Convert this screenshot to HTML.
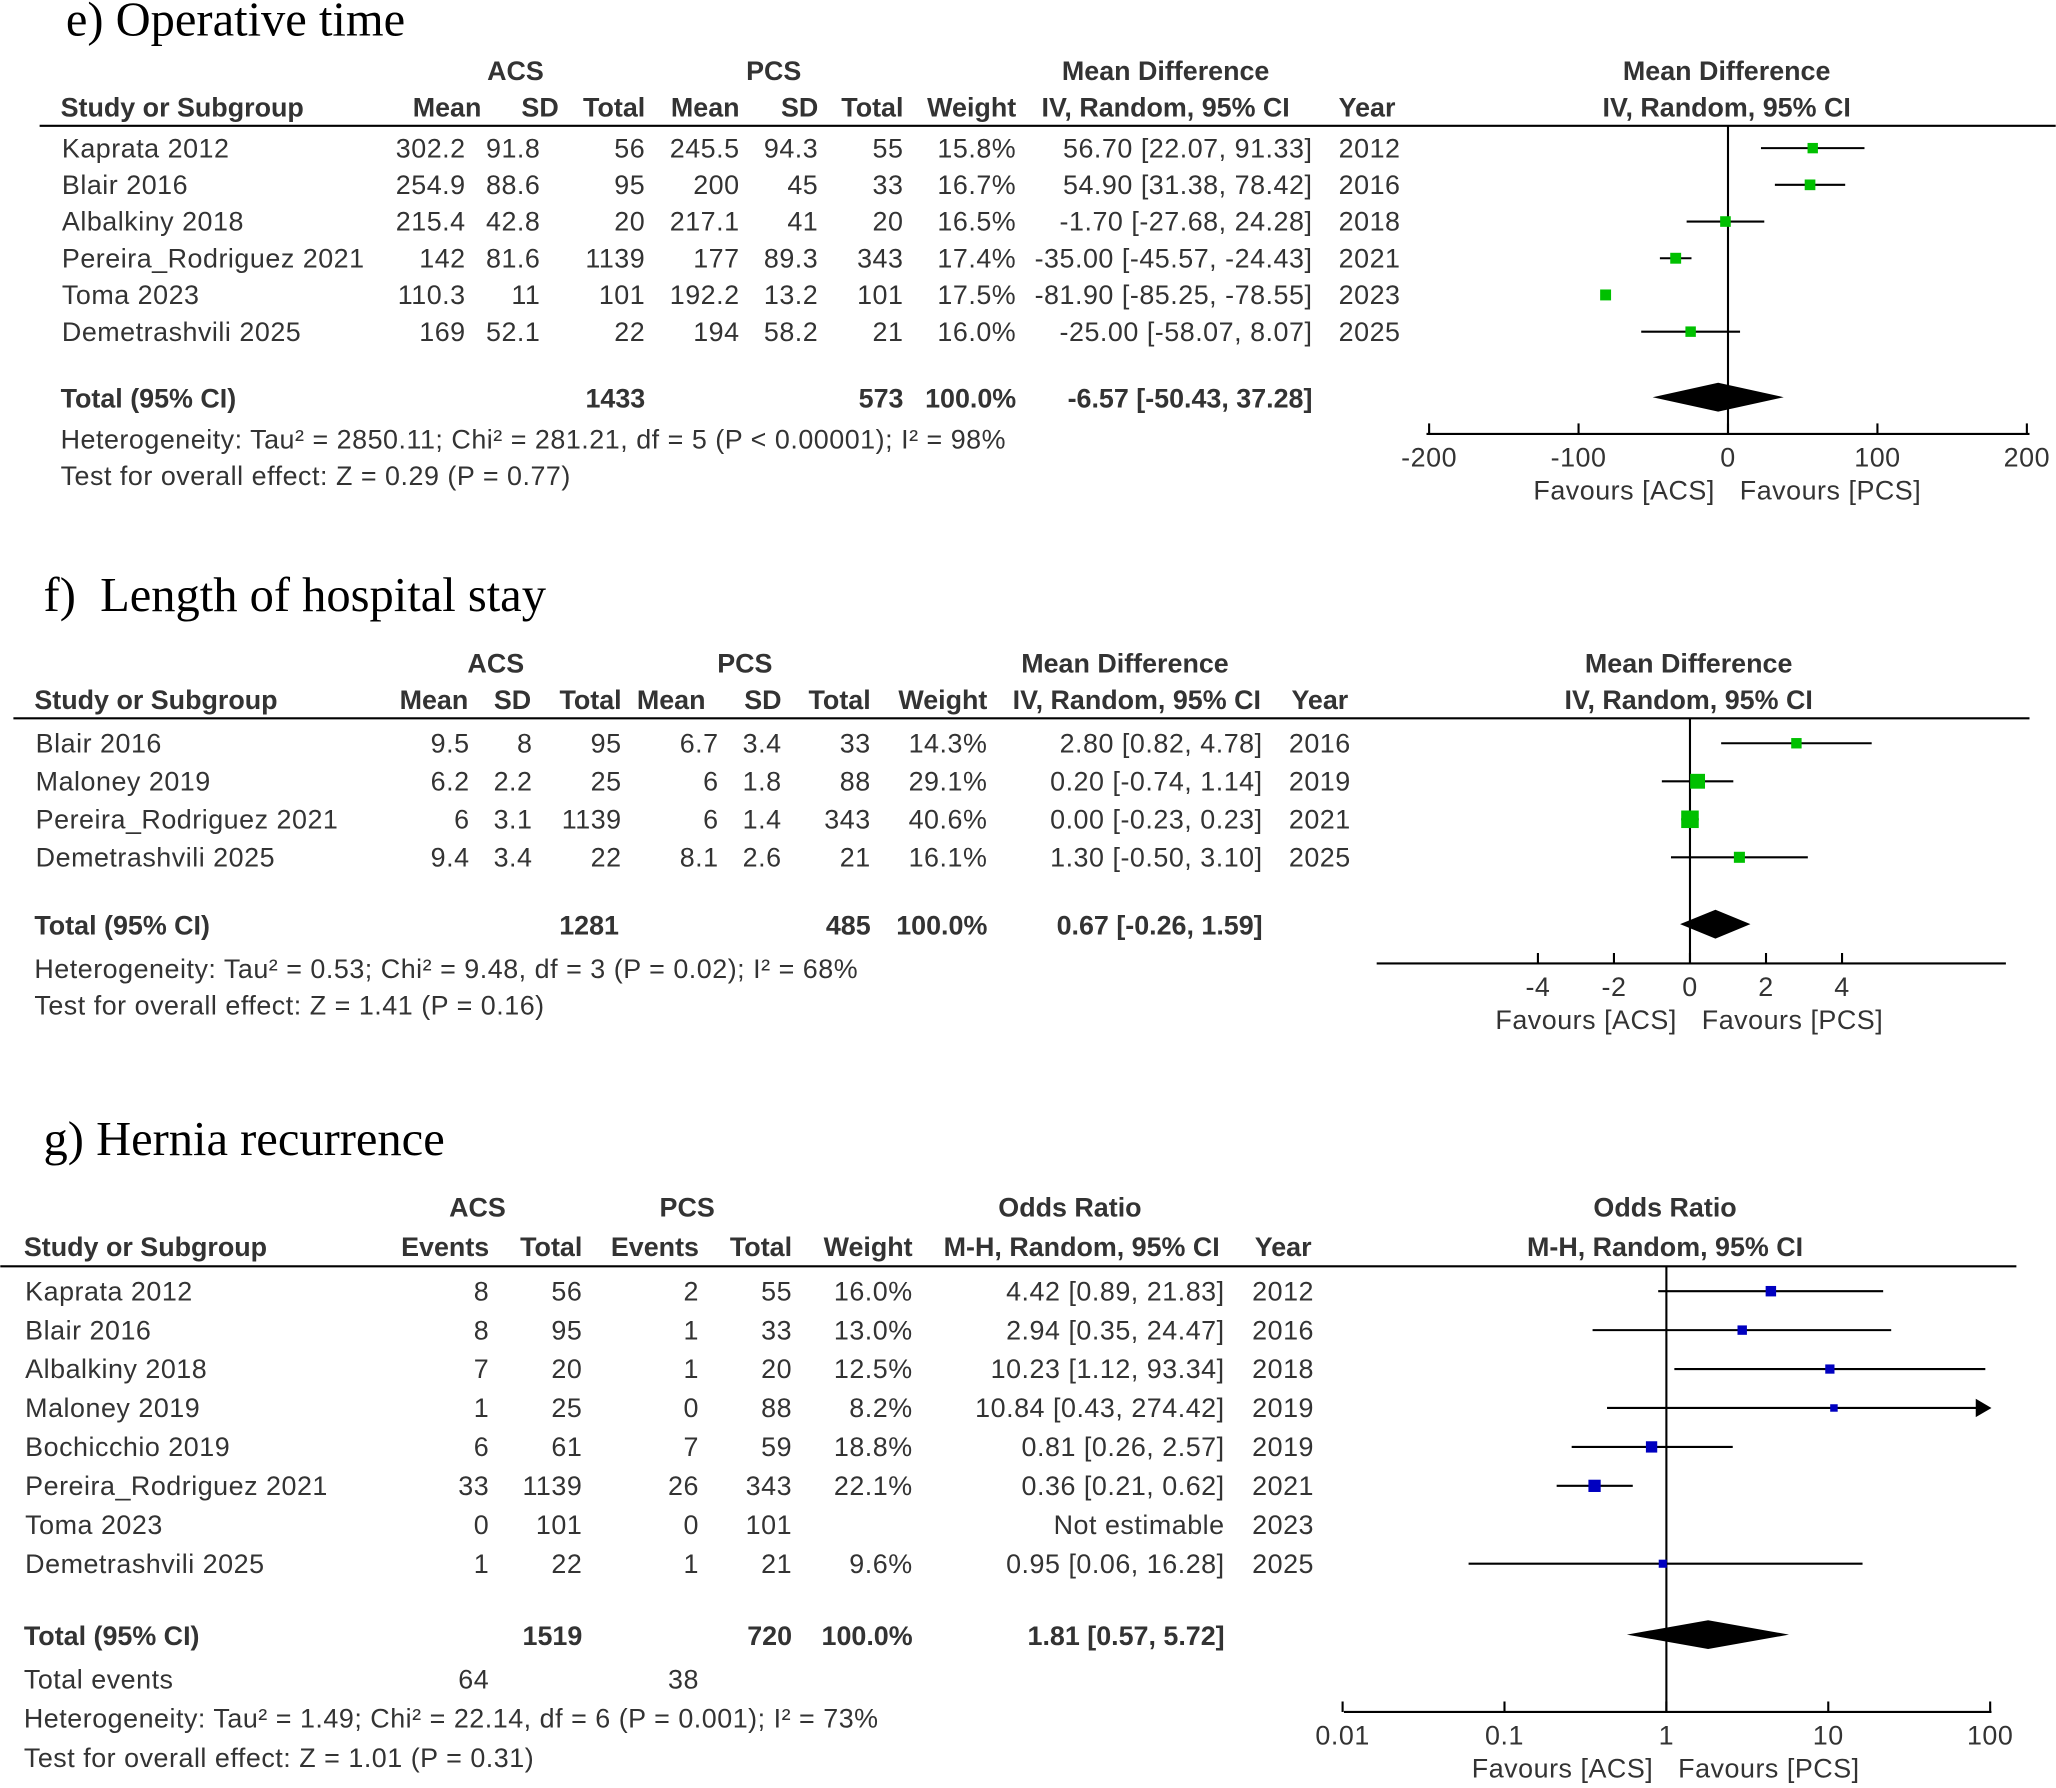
<!DOCTYPE html>
<html><head><meta charset="utf-8">
<style>
html,body{margin:0;padding:0;background:#fff;}
svg{display:block;}
text{font-family:"Liberation Sans",sans-serif;font-size:20.5px;fill:#333;letter-spacing:0.4px;}
.b{font-weight:bold;letter-spacing:0;}
.t{font-family:"Liberation Serif",serif;font-size:37px;fill:#000;letter-spacing:0;white-space:pre;}
</style></head>
<body>
<svg id="chart" width="2056" height="1788" viewBox="0 0 1568 1364" xmlns="http://www.w3.org/2000/svg"></svg>
<script>
// ---- Panel e data ----
const eStudies=["Kaprata 2012","Blair 2016","Albalkiny 2018","Pereira_Rodriguez 2021","Toma 2023","Demetrashvili 2025"];
const eMean1=["302.2","254.9","215.4","142","110.3","169"];
const eSD1=["91.8","88.6","42.8","81.6","11","52.1"];
const eN1=["56","95","20","1139","101","22"];
const eMean2=["245.5","200","217.1","177","192.2","194"];
const eSD2=["94.3","45","41","89.3","13.2","58.2"];
const eN2=["55","33","20","343","101","21"];
const eWeight=[15.8,16.7,16.5,17.4,17.5,16.0];
const eEst=[56.70,54.90,-1.70,-35.00,-81.90,-25.00];
const eLo=[22.07,31.38,-27.68,-45.57,-85.25,-58.07];
const eHi=[91.33,78.42,24.28,-24.43,-78.55,8.07];
const eCI=["56.70 [22.07, 91.33]","54.90 [31.38, 78.42]","-1.70 [-27.68, 24.28]","-35.00 [-45.57, -24.43]","-81.90 [-85.25, -78.55]","-25.00 [-58.07, 8.07]"];
const eYear=["2012","2016","2018","2021","2023","2025"];
const eTotal=[-6.57,-50.43,37.28];
const eTicks=[-200,-100,0,100,200];
// ---- Panel f data ----
const fStudies=["Blair 2016","Maloney 2019","Pereira_Rodriguez 2021","Demetrashvili 2025"];
const fMean1=["9.5","6.2","6","9.4"];
const fSD1=["8","2.2","3.1","3.4"];
const fN1=["95","25","1139","22"];
const fMean2=["6.7","6","6","8.1"];
const fSD2=["3.4","1.8","1.4","2.6"];
const fN2=["33","88","343","21"];
const fWeight=[14.3,29.1,40.6,16.1];
const fEst=[2.80,0.20,0.00,1.30];
const fLo=[0.82,-0.74,-0.23,-0.50];
const fHi=[4.78,1.14,0.23,3.10];
const fCI=["2.80 [0.82, 4.78]","0.20 [-0.74, 1.14]","0.00 [-0.23, 0.23]","1.30 [-0.50, 3.10]"];
const fYear=["2016","2019","2021","2025"];
const fTotal=[0.67,-0.26,1.59];
const fTicks=[-4,-2,0,2,4];
// ---- Panel g data ----
const gStudies=["Kaprata 2012","Blair 2016","Albalkiny 2018","Maloney 2019","Bochicchio 2019","Pereira_Rodriguez 2021","Toma 2023","Demetrashvili 2025"];
const gEv1=["8","8","7","1","6","33","0","1"];
const gN1=["56","95","20","25","61","1139","101","22"];
const gEv2=["2","1","1","0","7","26","0","1"];
const gN2=["55","33","20","88","59","343","101","21"];
const gWeight=[16.0,13.0,12.5,8.2,18.8,22.1,null,9.6];
const gEst=[4.42,2.94,10.23,10.84,0.81,0.36,null,0.95];
const gLo=[0.89,0.35,1.12,0.43,0.26,0.21,null,0.06];
const gHi=[21.83,24.47,93.34,274.42,2.57,0.62,null,16.28];
const gCI=["4.42 [0.89, 21.83]","2.94 [0.35, 24.47]","10.23 [1.12, 93.34]","10.84 [0.43, 274.42]","0.81 [0.26, 2.57]","0.36 [0.21, 0.62]","Not estimable","0.95 [0.06, 16.28]"];
const gYear=["2012","2016","2018","2019","2019","2021","2023","2025"];
const gTotal=[1.81,0.57,5.72];
const gTicks=[0.01,0.1,1,10,100];
const gTickLabels=["0.01","0.1","1","10","100"];

const NS="http://www.w3.org/2000/svg";
const svg=document.getElementById('chart');
function mk(tag,attrs,txt,name){
  const el=document.createElementNS(NS,tag);
  for(const k in attrs) el.setAttribute(k,attrs[k]);
  if(txt!==undefined&&txt!==null) el.textContent=txt;
  
  
  svg.appendChild(el);return el;
}
function T(x,y,s,anchor,cls,name){const a={x:x,y:y,'text-anchor':anchor||'start'};if(cls)a['class']=cls;return mk('text',a,s,name||'label');}
function L(x1,y1,x2,y2,w,name){return mk('line',{x1:x1,y1:y1,x2:x2,y2:y2,stroke:'#000','stroke-width':w||1.6},null,name||'line');}

function panel(o){
  T(o.titleX,o.titleY,o.title,'start','t','panel-title');
  o.head1.forEach(h=>T(h[0],o.h1y,h[1],'middle','b','group-header'));
  o.head2.forEach(h=>T(h[0],o.h2y,h[1],h[2],'b','column-header'));
  L(o.lineX1,o.lineY,o.lineX2,o.lineY,1.6,'header-rule');
  o.rows.forEach((r,i)=>{
    const y=o.rowY0+i*o.rowStep;
    r.forEach((c,j)=>{ if(c!==null&&c!=='') T(o.cols[j][0],y,c,o.cols[j][1],null,'cell');});
  });
  o.totalCells.forEach(c=>T(c[0],o.totalY,c[1],c[2],'b','total-cell'));
  (o.extra||[]).forEach(c=>T(c[0],c[1],c[2],c[3]||'start',null,'footnote'));
  const sx=o.sx;
  L(o.axX1,o.axY,o.axX2,o.axY,1.6,'x-axis');
  o.ticks.forEach((t,i)=>{const x=sx(t);L(x,o.axY-8,x,o.axY,1.6,'x-tick');T(x+o.tickOff,o.axY+25,o.tickLabels[i],'middle',null,'x-tick-label');});
  L(sx(o.nullV),o.lineY,sx(o.nullV),o.axY,1.6,'null-line');
  T(sx(o.nullV)-10,o.axY+50,'Favours [ACS]','end',null,'favours-acs');
  T(sx(o.nullV)+9,o.axY+50,'Favours [PCS]','start',null,'favours-pcs');
  o.est.forEach((e,i)=>{
    if(e===null) return;
    const y=o.rowY0+i*o.rowStep-7;
    let hi=o.hi[i],x2=sx(hi),arrow=false;
    if(x2>o.axX2){x2=o.axX2-4;arrow=true;}
    L(sx(o.lo[i]),y,x2,y,1.6,'ci-line');
    if(arrow) mk('polygon',{points:(x2-8)+','+(y-7)+' '+(x2+4)+','+y+' '+(x2-8)+','+(y+7),fill:'#000'},null,'ci-arrow');
    const s=2.1*Math.sqrt(o.w[i]);
    mk('rect',{x:sx(e)-s/2,y:y-s/2,width:s,height:s,fill:o.color},null,'study-marker');
  });
  const d=o.total,dy=o.totalY-8;
  mk('polygon',{points:sx(d[1])+','+dy+' '+sx(d[0])+','+(dy-11)+' '+sx(d[2])+','+dy+' '+sx(d[0])+','+(dy+11),fill:'#000'},null,'summary-diamond');
}

// Panel e
const eRows=eStudies.map((s,i)=>[s,eMean1[i],eSD1[i],eN1[i],eMean2[i],eSD2[i],eN2[i],eWeight[i].toFixed(1)+'%',eCI[i],eYear[i]]);
panel({title:'e) Operative time',titleX:50,titleY:27,h1y:61,h2y:89,
 head1:[[393,'ACS'],[590,'PCS'],[889,'Mean Difference'],[1317,'Mean Difference']],
 head2:[[46,'Study or Subgroup','start'],[367,'Mean','end'],[426,'SD','end'],[492,'Total','end'],[564,'Mean','end'],[624,'SD','end'],[689,'Total','end'],[775,'Weight','end'],[889,'IV, Random, 95% CI','middle'],[1021,'Year','start'],[1317,'IV, Random, 95% CI','middle']],
 lineX1:30,lineX2:1568,lineY:96,rows:eRows,rowY0:120,rowStep:28,
 cols:[[47,'start'],[355,'end'],[412,'end'],[492,'end'],[564,'end'],[624,'end'],[689,'end'],[775,'end'],[1001,'end'],[1021,'start']],
 totalY:311,totalCells:[[46,'Total (95% CI)','start'],[492,'1433','end'],[689,'573','end'],[775,'100.0%','end'],[1001,'-6.57 [-50.43, 37.28]','end']],
 extra:[[46,342,'Heterogeneity: Tau\u00b2 = 2850.11; Chi\u00b2 = 281.21, df = 5 (P < 0.00001); I\u00b2 = 98%'],[46,370,'Test for overall effect: Z = 0.29 (P = 0.77)']],
 sx:v=>1318+v*1.14,axX1:1088,axX2:1548,axY:331,ticks:eTicks,tickLabels:eTicks.map(String),nullV:0,tickOff:0,
 est:eEst,lo:eLo,hi:eHi,w:eWeight.map(w=>w*0.9),color:'#00c000',total:eTotal});

// Panel f
const fRows=fStudies.map((s,i)=>[s,fMean1[i],fSD1[i],fN1[i],fMean2[i],fSD2[i],fN2[i],fWeight[i].toFixed(1)+'%',fCI[i],fYear[i]]);
panel({title:'f)  Length of hospital stay',titleX:33,titleY:466,h1y:513,h2y:541,
 head1:[[378,'ACS'],[568,'PCS'],[858,'Mean Difference'],[1288,'Mean Difference']],
 head2:[[26,'Study or Subgroup','start'],[357,'Mean','end'],[405,'SD','end'],[474,'Total','end'],[538,'Mean','end'],[596,'SD','end'],[664,'Total','end'],[753,'Weight','end'],[867,'IV, Random, 95% CI','middle'],[985,'Year','start'],[1288,'IV, Random, 95% CI','middle']],
 lineX1:10,lineX2:1548,lineY:548,rows:fRows,rowY0:574,rowStep:29,
 cols:[[27,'start'],[358,'end'],[406,'end'],[474,'end'],[548,'end'],[596,'end'],[664,'end'],[753,'end'],[963,'end'],[983,'start']],
 totalY:713,totalCells:[[26,'Total (95% CI)','start'],[472,'1281','end'],[664,'485','end'],[753,'100.0%','end'],[963,'0.67 [-0.26, 1.59]','end']],
 extra:[[26,746,'Heterogeneity: Tau\u00b2 = 0.53; Chi\u00b2 = 9.48, df = 3 (P = 0.02); I\u00b2 = 68%'],[26,774,'Test for overall effect: Z = 1.41 (P = 0.16)']],
 sx:v=>1289+v*29,axX1:1050,axX2:1530,axY:735,ticks:fTicks,tickLabels:fTicks.map(String),nullV:0,tickOff:0,
 est:fEst,lo:fLo,hi:fHi,w:fWeight,color:'#00c000',total:fTotal});

// Panel g
const gRows=gStudies.map((s,i)=>[s,gEv1[i],gN1[i],gEv2[i],gN2[i],gWeight[i]===null?'':gWeight[i].toFixed(1)+'%',gCI[i],gYear[i]]);
const lg=v=>1271+Math.log10(v)*123.5;
panel({title:'g) Hernia recurrence',titleX:33,titleY:881,h1y:928,h2y:958,
 head1:[[364,'ACS'],[524,'PCS'],[816,'Odds Ratio'],[1270,'Odds Ratio']],
 head2:[[18,'Study or Subgroup','start'],[373,'Events','end'],[444,'Total','end'],[533,'Events','end'],[604,'Total','end'],[696,'Weight','end'],[825,'M-H, Random, 95% CI','middle'],[957,'Year','start'],[1270,'M-H, Random, 95% CI','middle']],
 lineX1:0,lineX2:1538,lineY:966,rows:gRows,rowY0:992,rowStep:29.7,
 cols:[[19,'start'],[373,'end'],[444,'end'],[533,'end'],[604,'end'],[696,'end'],[934,'end'],[955,'start']],
 totalY:1255,totalCells:[[18,'Total (95% CI)','start'],[444,'1519','end'],[604,'720','end'],[696,'100.0%','end'],[934,'1.81 [0.57, 5.72]','end']],
 extra:[[18,1288,'Total events'],[373,1288,'64','end'],[533,1288,'38','end'],[18,1318,'Heterogeneity: Tau\u00b2 = 1.49; Chi\u00b2 = 22.14, df = 6 (P = 0.001); I\u00b2 = 73%'],[18,1348,'Test for overall effect: Z = 1.01 (P = 0.31)']],
 sx:lg,axX1:1025,axX2:1519,axY:1306,ticks:gTicks,tickLabels:gTickLabels,nullV:1,tickOff:0,
 est:gEst,lo:gLo,hi:gHi,w:gWeight.map(w=>w===null?0:w*0.9),color:'#0000c0',total:gTotal});
</script>
</body></html>
